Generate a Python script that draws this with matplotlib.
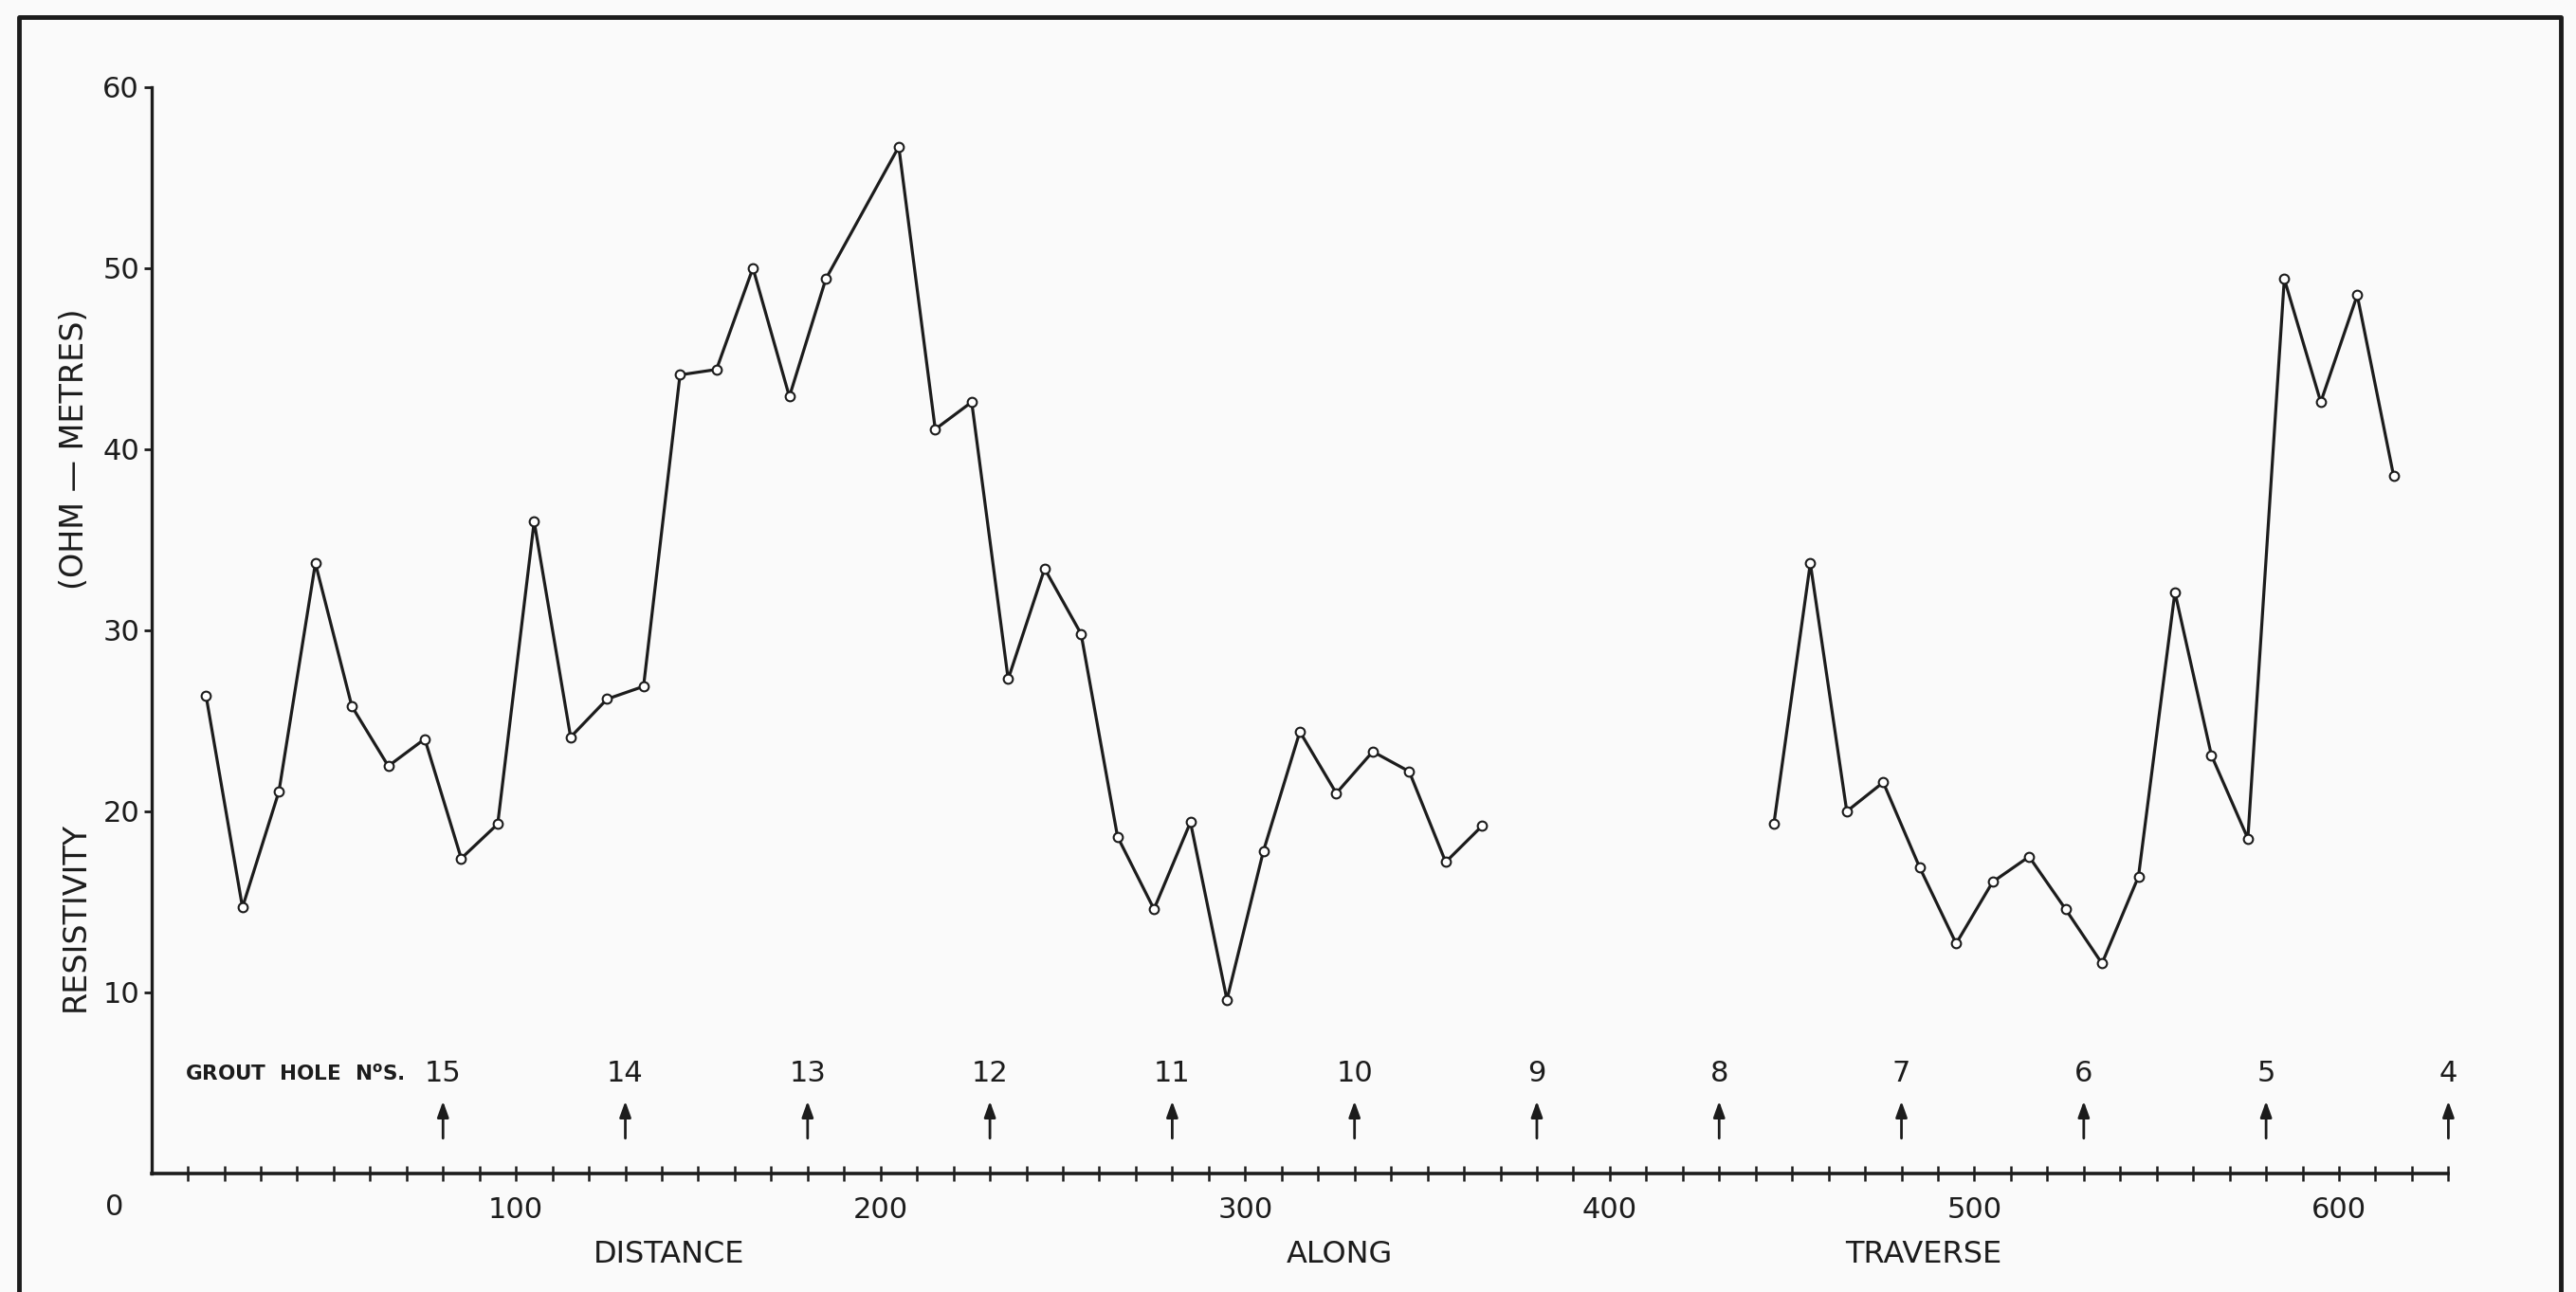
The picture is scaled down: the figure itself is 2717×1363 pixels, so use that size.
import matplotlib.pyplot as plt
from matplotlib.lines import Line2D

# resistivity traverse, values
# first run of stations
dist_a = [15, 25, 35, 45, 55, 65, 75, 85, 95, 105, 115, 125, 135, 145, 155, 165, 175, 185,
          205, 215, 225, 235, 245, 255, 265, 275, 285, 295, 305, 315, 325, 335, 345, 355, 365]
res_a = [26.4, 14.7, 21.1, 33.7, 25.8, 22.5, 24.0, 17.4, 19.3, 36.0, 24.1, 26.2, 26.9, 44.1,
         44.4, 50.0, 42.9, 49.4, 56.7, 41.1, 42.6, 27.3, 33.4, 29.8, 18.6, 14.6, 19.4, 9.6,
         17.8, 24.4, 21.0, 23.3, 22.2, 17.2, 19.2]

# second run of stations
dist_b = [445, 455, 465, 475, 485, 495, 505, 515, 525, 535, 545, 555, 565, 575, 585, 595, 605, 615]
res_b = [19.3, 33.7, 20.0, 21.6, 16.9, 12.7, 16.1, 17.5, 14.6, 11.6, 16.4, 32.1, 23.1, 18.5,
         49.4, 42.6, 48.5, 38.5]

# grout holes along the traverse
hole_pos = [80, 130, 180, 230, 280, 330, 380, 430, 480, 530, 580, 630]
hole_no = ['15', '14', '13', '12', '11', '10', '9', '8', '7', '6', '5', '4']

xtick_pos = [10 * i for i in range(1, 64)]
xtick_lab = [100, 200, 300, 400, 500, 600]
ytick_pos = [10, 20, 30, 40, 50, 60]

plt.rcParams['font.family'] = ['DejaVu Sans']
ink = '#1c1c1c'

fig = plt.figure(figsize=(27.17, 13.63), dpi=100, facecolor='#fafafa')
ax = fig.add_axes([0, 0, 1, 1])
ax.set_facecolor('none')
ax.set_xlim(-41.5, 665)
ax.set_ylim(-6.54, 64.8)

for xs, ys in [(dist_a, res_a), (dist_b, res_b)]:
    ax.plot(xs, ys, color=ink, lw=2.3, marker='o', ms=7, mfc='white', mec=ink, mew=1.5)

# axes drawn like the original: y axis up to 60, x axis to the last hole
ax.spines[['top', 'right']].set_visible(False)
ax.spines['left'].set_position(('data', 0))
ax.spines['bottom'].set_position(('data', 0))
ax.spines['left'].set_bounds(0, 60)
ax.spines['bottom'].set_bounds(0, 630)
ax.spines['left'].set_linewidth(2.4)
ax.spines['bottom'].set_linewidth(2.6)
ax.spines['left'].set_color(ink)
ax.spines['bottom'].set_color(ink)

ax.set_xticks(xtick_pos)
ax.set_xticklabels([str(t) if t in xtick_lab else '' for t in xtick_pos])
ax.set_yticks(ytick_pos)
ax.set_yticklabels([str(t) for t in ytick_pos])
ax.tick_params(axis='x', direction='inout', length=12, width=1.8, pad=11,
               labelsize=22, colors=ink)
ax.tick_params(axis='y', direction='out', length=6, width=2, pad=3,
               labelsize=22, colors=ink)

ax.text(-10, -1.85, '0', ha='center', va='center', fontsize=22, color=ink)

# axis titles spread along the bottom
ax.text(142, -4.45, 'DISTANCE', ha='center', va='center', fontsize=23, color=ink)
ax.text(326, -4.45, 'ALONG', ha='center', va='center', fontsize=23, color=ink)
ax.text(486, -4.45, 'TRAVERSE', ha='center', va='center', fontsize=23, color=ink)
ax.text(-21, 14.2, 'RESISTIVITY', rotation=90, ha='center', va='center', fontsize=24, color=ink)
ax.text(-21, 40.0, '(OHM \u2014 METRES)', rotation=90, ha='center', va='center', fontsize=24, color=ink)

# grout hole markers
ax.text(9.2, 5.55, r'GROUT  HOLE  N$^{\mathbf{o}}$S.', ha='left', va='center', fontsize=15.5,
        fontweight='bold', color=ink)
for hx, hn in zip(hole_pos, hole_no):
    ax.annotate('', xy=(hx, 4.0), xytext=(hx, 1.95),
                arrowprops=dict(arrowstyle='-|>,head_length=0.5,head_width=0.18',
                                color=ink, lw=2, mutation_scale=20, shrinkA=0, shrinkB=0))
    ax.text(hx, 5.55, hn, ha='center', va='center', fontsize=22, color=ink)

# drawing border (bottom edge is off the sheet)
fig.add_artist(Line2D([0.0074, 0.0074, 0.9941, 0.9941], [0.0, 0.9868, 0.9868, 0.0],
                      transform=fig.transFigure, color=ink, lw=3.5))

fig.savefig('out.png', dpi=100, facecolor=fig.get_facecolor())
